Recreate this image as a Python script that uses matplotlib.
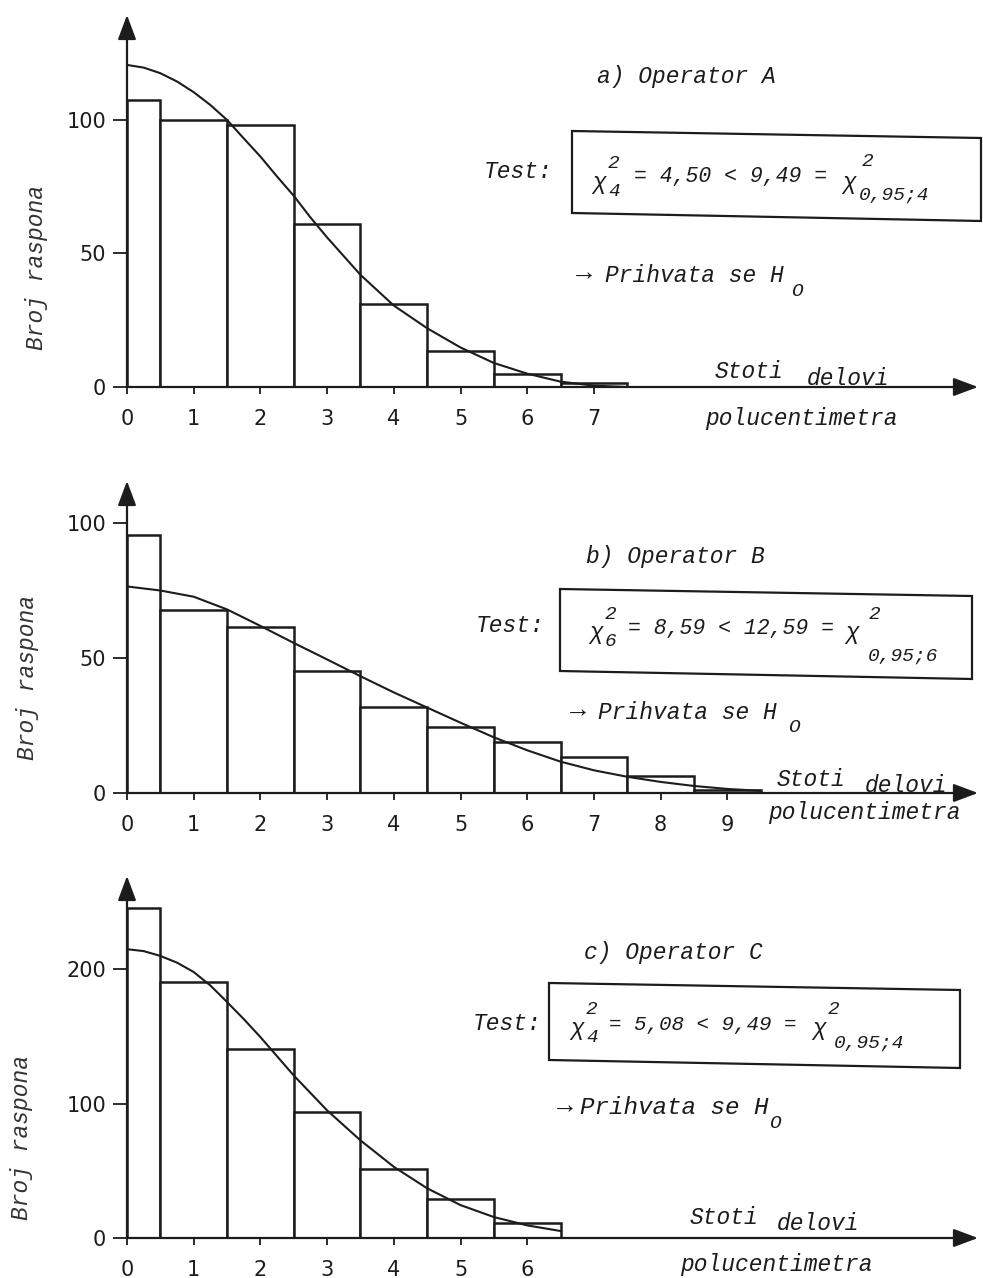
import matplotlib
matplotlib.use('Agg')
import matplotlib.pyplot as plt
from matplotlib.patches import Polygon

# histogram classes (hundredths of half-centimetre) and counts
classes_a = [0, 1, 2, 3, 4, 5, 6, 7]
counts_a = [107.5, 100, 98, 61, 31, 13.5, 5, 1.5]
classes_b = [0, 1, 2, 3, 4, 5, 6, 7, 8, 9]
counts_b = [95.5, 67.7, 61.5, 45, 31.8, 24.3, 19, 13.5, 6.2, 1.2]
classes_c = [0, 1, 2, 3, 4, 5, 6]
counts_c = [246, 190.3, 140.4, 94, 51, 28.8, 11.4]

# fitted curves, points
curve_x_a = [0, 0.25, 0.5, 0.75, 1, 1.25, 1.5, 1.75, 2, 2.25, 2.5, 2.75, 3, 3.5, 4,
             4.5, 5, 5.5, 6, 6.5, 7, 7.5]
curve_y_a = [120.6, 119.6, 117.5, 114.4, 110.4, 105.6, 100, 93.1, 86.3, 78.8, 71.6,
             63.5, 56, 42, 30.5, 22, 14.8, 9, 5, 2, 0.5, 0]
curve_x_b = [0, 0.5, 1, 1.5, 2, 2.5, 3, 3.5, 4, 4.5, 5, 5.5, 6, 6.5, 7, 7.5, 8, 8.5, 9, 9.5]
curve_y_b = [76.4, 74.9, 72.6, 67.9, 61.8, 55.5, 49.4, 43.2, 37.2, 31.6, 26, 20.6,
             15.8, 11.6, 8.4, 6, 4.1, 2.6, 1.5, 0.8]
curve_x_c = [0, 0.25, 0.5, 0.75, 1, 1.25, 1.5, 1.75, 2, 2.5, 3, 3.5, 4, 4.5, 5, 5.5,
             6, 6.5]
curve_y_c = [215, 213.6, 210, 205, 198, 188, 175.7, 163, 149.6, 121, 95, 72.7, 53, 37,
             24.5, 15.6, 9.4, 5.2]

yticks_a = [0, 50, 100]
yticks_b = [0, 50, 100]
yticks_c = [0, 100, 200]

W, H = 983, 1278
INK = '#1c1c1c'
MONO = ['Liberation Mono', 'DejaVu Sans Mono']

fig = plt.figure(figsize=(W / 100, H / 100), dpi=100)
fig.patch.set_facecolor('white')


def put(s, x, y, size=16.5, **kw):
    fig.text(x / W, 1 - y / H, s, ha='left', va='center', size=size,
             family=MONO, style='italic', color=INK, **kw)


def ylabel(x, y):
    fig.text(x / W, 1 - y / H, 'Broj raspona', rotation=90, ha='center', va='center',
             size=16.5, family=MONO, style='italic', color='#333333')


def panel(base, top, ymax, classes, counts, cx, cy, yticks):
    ax = fig.add_axes([127 / W, 1 - base / H, (978 - 127) / W, (base - top) / H])
    ax.set_xlim(0, (978 - 127) / 66.7)
    ax.set_ylim(0, ymax)
    ax.patch.set_alpha(0)
    for s in ax.spines.values():
        s.set_visible(False)
    head = dict(arrowstyle='-|>,head_length=0.75,head_width=0.28', lw=1.6,
                color=INK, mutation_scale=20, shrinkA=0, shrinkB=0)
    ax.annotate('', xy=(1, 0), xytext=(0, 0), xycoords='axes fraction', arrowprops=head)
    ax.annotate('', xy=(0, 1), xytext=(0, 0), xycoords='axes fraction', arrowprops=head)

    lefts = [0] + [k - 0.5 for k in classes[1:]]
    widths = [0.5] + [1] * (len(classes) - 1)
    ax.bar(lefts, counts, width=widths, align='edge', facecolor='white',
           edgecolor=INK, linewidth=1.8, zorder=2)
    ax.plot(cx, cy, color=INK, lw=1.5, zorder=3)

    ax.set_xticks(classes)
    ax.set_yticks(yticks)
    ax.tick_params(axis='y', direction='out', length=10, width=1.3, pad=5,
                   labelsize=15, colors=INK)
    ax.tick_params(axis='x', direction='out', length=5, width=1.3, pad=11,
                   labelsize=15, colors=INK)
    return ax


def chi(x, y, sup, sub, dx=16, small=14):
    put('\u03c7', x, y)
    put(sup, x + dx, y - 19, size=small)
    put(sub, x + dx, y + 9, size=small)


def box(pts):
    fig.patches.append(Polygon([(px / W, 1 - py / H) for px, py in pts], closed=True,
                               fill=False, edgecolor=INK, lw=1.6,
                               transform=fig.transFigure))


# a) Operator A
panel(387, 15, 139.3, classes_a, counts_a, curve_x_a, curve_y_a, yticks_a)
put('a) Operator A', 597, 77)
box([(572, 131), (981, 138), (981, 221), (572, 213)])
put('Test:', 484, 172)
chi(592, 182, '2', '4')
put('= 4,50 < 9,49 =', 634, 176, size=15.5)
put('\u03c7', 842, 182)
put('2', 862, 162, size=14)
put('0,95;4', 859, 195, size=14)
put('\u2192', 576, 273, size=19)
put('Prihvata se H', 605, 275)
put('O', 791, 291, size=14)
put('Stoti', 715, 371)
put('delovi', 807, 378)
put('polucentimetra', 705, 418)
ylabel(37, 267)

# b) Operator B
panel(793, 481, 115.4, classes_b, counts_b, curve_x_b, curve_y_b, yticks_b)
put('b) Operator B', 586, 557)
box([(560, 589), (972, 596), (972, 679), (560, 671)])
put('Test:', 476, 625)
chi(589, 633, '2', '6')
put('= 8,59 < 12,59 =', 628, 628, size=15.5)
put('\u03c7', 845, 633)
put('2', 869, 615, size=14)
put('0,95;6', 868, 656, size=14)
put('\u2192', 570, 710, size=19)
put('Prihvata se H', 598, 712)
put('O', 788, 728, size=14)
put('Stoti', 777, 779)
put('delovi', 865, 786)
put('polucentimetra', 768, 813)
ylabel(28, 677)

# c) Operator C
panel(1238, 876, 269.5, classes_c, counts_c, curve_x_c, curve_y_c, yticks_c)
put('c) Operator C', 584, 953)
box([(549, 983), (960, 990), (960, 1068), (549, 1060)])
put('Test:', 473, 1023)
chi(570, 1028, '2', '4')
put('= 5,08 < 9,49 =', 609, 1025, size=15)
put('\u03c7', 812, 1028)
put('2', 828, 1010, size=14)
put('0,95;4', 834, 1043, size=14)
put('\u2192', 557, 1106, size=19)
put('Prihvata se H', 580, 1108, size=17.5)
put('O', 769, 1123, size=14)
put('Stoti', 690, 1218)
put('delovi', 777, 1223)
put('polucentimetra', 680, 1265)
ylabel(22, 1137)

fig.savefig('out.png', dpi=100, facecolor='white')
